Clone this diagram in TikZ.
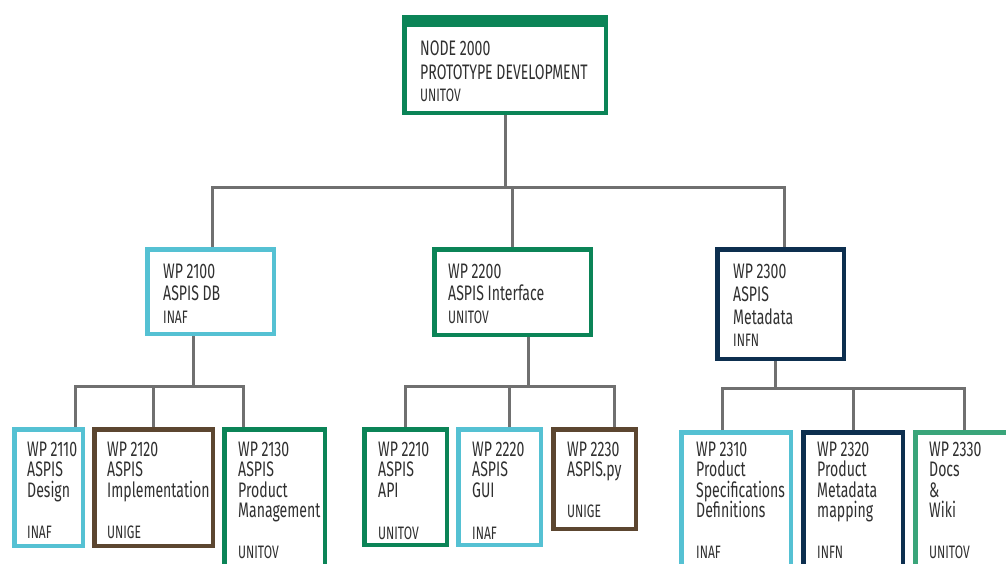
\documentclass[tikz,border=0pt]{standalone}
\usepackage{fontspec}
\setmainfont[FakeStretch=0.67]{Fira Sans}
\definecolor{cgreen}{HTML}{0B8457}
\definecolor{ccyan}{HTML}{55C1D3}
\definecolor{cbrown}{HTML}{5C4630}
\definecolor{cnavy}{HTML}{0D2F4F}
\definecolor{clgreen}{HTML}{3AA57A}
\definecolor{cgray}{HTML}{707070}
\definecolor{ctext}{HTML}{303030}
\newcommand\wpbox[6]{%
  \pgfmathsetmacro\bw{#4-#2-4.5}\pgfmathsetmacro\bh{#5-#3-4.5}%
  \node[wp=#6, minimum width=\bw pt, minimum height=\bh pt] (#1) at ({(#2+#4)/2},{(#3+#5)/2}) {};}
\newcommand\boxlines[5]{%
  \foreach \l [count=\i] in {#5} {\node[txt] (#1-\i) at (#2,{#3+(\i-1)*#4}) {\l};}}
\begin{document}
\begin{tikzpicture}[x=1pt,y=-1pt,
  wp/.style={draw=#1, line width=4.5pt, fill=white, inner sep=0pt},
  conn/.style={draw=cgray, line width=3pt, line join=miter},
  txt/.style={anchor=base west, inner sep=0pt, text=ctext, font=\fontsize{21}{21}\selectfont},
  org/.style={txt, font=\fontsize{18}{18}\selectfont}]
\useasboundingbox (0,0) rectangle (1006,563);
\clip (0,0) rectangle (1006,563);
\fill[white] (0,0) rectangle (1006,563);
% boxes
\wpbox{n2000}{402}{15}{608}{115}{cgreen}
\fill[cgreen] (402,15) rectangle (608,27);
\wpbox{w2100}{145}{247}{276}{336}{ccyan}
\wpbox{w2200}{432}{247}{593}{337}{cgreen}
\wpbox{w2300}{715}{247}{846}{361}{cnavy}
\wpbox{w2110}{12}{427}{85}{548}{ccyan}
\wpbox{w2120}{92}{427}{215}{548}{cbrown}
\wpbox{w2130}{222}{427}{327}{600}{cgreen}
\wpbox{w2210}{362}{427}{449}{547}{cgreen}
\wpbox{w2220}{456}{427}{543}{547}{ccyan}
\wpbox{w2230}{551}{427}{638}{531}{cbrown}
\wpbox{w2310}{679}{430}{793}{600}{ccyan}
\wpbox{w2320}{801}{430}{905}{600}{cnavy}
\wpbox{w2330}{913}{430}{1030}{600}{clgreen}
% junctions
\coordinate (j0) at (505,187);
\coordinate (j21) at (193,386);
\coordinate (j22) at (528,386);
\coordinate (j23) at (775,388);
% connectors
\draw[conn] (n2000.south) -- (j0);
\draw[conn] ([xshift=1.5pt]w2100.north) |- (j0);
\draw[conn] (w2200.north) |- (j0);
\draw[conn] ([xshift=3.5pt]w2300.north) |- (j0);
\draw[conn] ([xshift=-17.5pt]w2100.south) -- (j21);
\draw[conn] ([xshift=26.5pt]w2110.north) |- (j21);
\draw[conn] (w2120.north) |- (j21);
\draw[conn] ([xshift=-31.5pt]w2130.north) |- (j21);
\draw[conn] ([xshift=15.5pt]w2200.south) -- (j22);
\draw[conn] (w2210.north) |- (j22);
\draw[conn] ([xshift=9.5pt]w2220.north) |- (j22);
\draw[conn] ([xshift=19.5pt]w2230.north) |- (j22);
\draw[conn] ([xshift=-5.5pt]w2300.south) -- (j23);
\draw[conn] ([xshift=-14pt]w2310.north) |- (j23);
\draw[conn] (w2320.north) |- (j23);
\draw[conn] ([xshift=-7.5pt]w2330.north) |- (j23);
% texts
\boxlines{t2000}{420}{55}{24}{NODE 2000,PROTOTYPE DEVELOPMENT}
\node[org] (o2000) at (420,101) {UNITOV};
\boxlines{t2100}{163}{278}{22.5}{WP 2100,ASPIS DB}
\node[org] (o2100) at (163,323) {INAF};
\boxlines{t2200}{448}{278}{22.5}{WP 2200,ASPIS Interface}
\node[org] (o2200) at (448,323) {UNITOV};
\boxlines{t2300}{733}{278}{23}{WP 2300,ASPIS,Metadata}
\node[org] (o2300) at (733,346) {INFN};
\boxlines{t2110}{27}{456}{20.6}{WP 2110,ASPIS,Design}
\node[org] (o2110) at (27,538) {INAF};
\boxlines{t2120}{107}{456}{20.6}{WP 2120,ASPIS,Implementation}
\node[org] (o2120) at (107,538) {UNIGE};
\boxlines{t2130}{238}{456}{20.6}{WP 2130,ASPIS,Product,Management}
\node[org] (o2130) at (238,558) {UNITOV};
\boxlines{t2210}{378}{456}{20.6}{WP 2210,ASPIS,API}
\node[org] (o2210) at (378,539) {UNITOV};
\boxlines{t2220}{472}{456}{20.6}{WP 2220,ASPIS,GUI}
\node[org] (o2220) at (472,539) {INAF};
\boxlines{t2230}{567}{456}{20.6}{WP 2230,ASPIS.py}
\node[org] (o2230) at (567,517) {UNIGE};
\boxlines{t2310}{696}{456}{20.6}{WP 2310,Product,Specifications,Definitions}
\node[org] (o2310) at (696,558) {INAF};
\boxlines{t2320}{817}{456}{20.6}{WP 2320,Product,Metadata,mapping}
\node[org] (o2320) at (817,558) {INFN};
\boxlines{t2330}{929}{456}{20.6}{WP 2330,Docs,\&,Wiki}
\node[org] (o2330) at (929,558) {UNITOV};
\end{tikzpicture}
\end{document}
